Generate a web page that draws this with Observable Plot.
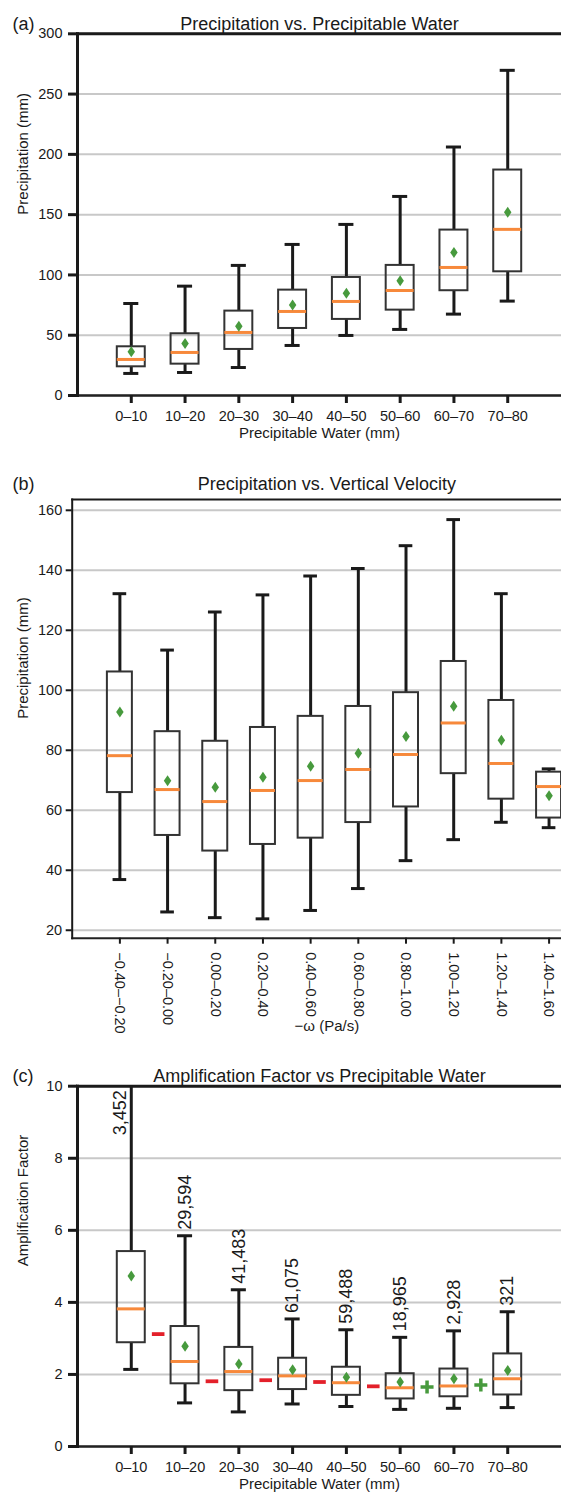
<!DOCTYPE html>
<html><head><meta charset="utf-8">
<script src="https://cdn.jsdelivr.net/npm/d3@7"></script>
<script src="https://cdn.jsdelivr.net/npm/@observablehq/plot@0.6"></script>
<style>
html,body{margin:0;padding:0;background:#fff;overflow:hidden;}
#wrap{width:561px;height:1496px;overflow:hidden;position:relative;background:#fff;}
#wrap svg{display:block;max-width:none !important;}
</style></head><body><div id="wrap"></div>
<script>
// ---------- Panel (a): Precipitation vs. Precipitable Water ----------
const pwLabels = ["0–10","10–20","20–30","30–40","40–50","50–60","60–70","70–80"];
const aLo   = [18.3, 19.1, 23.2, 41.5, 49.8, 54.8, 67.5, 78.3];
const aQ1   = [23.8, 26.0, 38.2, 55.6, 63.1, 70.8, 86.9, 102.6];
const aMed  = [29.9, 35.7, 52.3, 69.7, 78.0, 87.1, 106.2, 137.8];
const aQ3   = [40.4, 51.2, 70.0, 87.4, 97.9, 107.9, 137.2, 187.0];
const aHi   = [76.3, 90.7, 107.9, 125.3, 141.9, 165.1, 206.1, 269.7];
const aMean = [36.2, 43.2, 57.5, 75.0, 84.9, 95.2, 118.7, 151.9];
const aYTicks = [0, 50, 100, 150, 200, 250, 300];

// ---------- Panel (b): Precipitation vs. Vertical Velocity ----------
const omegaLabels = ["−0.40–−0.20","−0.20–0.00","0.00–0.20","0.20–0.40","0.40–0.60",
                     "0.60–0.80","0.80–1.00","1.00–1.20","1.20–1.40","1.40–1.60"];
const bLo   = [36.9, 26.1, 24.2, 23.8, 26.6, 33.9, 43.2, 50.2, 56.0, 54.2];
const bQ1   = [65.9, 51.6, 46.4, 48.6, 50.7, 55.9, 61.1, 72.2, 63.7, 57.4];
const bMed  = [78.2, 66.9, 62.9, 66.6, 69.9, 73.6, 78.6, 89.1, 75.6, 67.9];
const bQ3   = [106.1, 86.2, 83.0, 87.6, 91.3, 94.6, 99.2, 109.6, 96.6, 72.7];
const bHi   = [132.2, 113.4, 126.1, 131.8, 138.1, 140.6, 148.2, 156.9, 132.2, 73.8];
const bMean = [92.8, 69.8, 67.7, 71.0, 74.7, 79.0, 84.6, 94.7, 83.3, 64.8];
const bYTicks = [20, 40, 60, 80, 100, 120, 140, 160];

// ---------- Panel (c): Amplification Factor vs Precipitable Water ----------
const cLo   = [2.14, 1.21, 0.96, 1.18, 1.11, 1.03, 1.06, 1.08];
const cQ1   = [2.88, 1.74, 1.55, 1.58, 1.42, 1.32, 1.38, 1.43];
const cMed  = [3.82, 2.36, 2.08, 1.96, 1.77, 1.63, 1.68, 1.88];
const cQ3   = [5.41, 3.33, 2.75, 2.45, 2.20, 2.02, 2.15, 2.57];
const cHi   = [12.0, 5.85, 4.35, 3.54, 3.24, 3.03, 3.21, 3.74];
const cMean = [4.73, 2.78, 2.29, 2.13, 1.92, 1.79, 1.88, 2.11];
const cCounts = [3452, 29594, 41483, 61075, 59488, 18965, 2928, 321];
const cYTicks = [0, 2, 4, 6, 8, 10];
// significance markers between neighbouring bins
const sigLevel = [3.12, 1.81, 1.84, 1.79, 1.67, 1.65, 1.71];
const sigSign  = ["−", "−", "−", "−", "−", "+", "+"];

// ---------- helpers ----------
const FONT = "'Liberation Sans', Arial, Helvetica, sans-serif";
const INK = "#1a1a1a";
const GRID = "#c8c8c8";
const ORANGE = "#f7893b";
const GREEN = "#479a3d";
const RED = "#e3202a";
const TICK_FS = 14.5, LABEL_FS = 15, TITLE_FS = 18;

const thinDiamond = {draw(ctx, size) {
  const r = Math.sqrt(size / Math.PI);
  ctx.moveTo(0, -r); ctx.lineTo(r * 0.68, 0); ctx.lineTo(0, r); ctx.lineTo(-r * 0.68, 0); ctx.closePath();
}};
const minusSym = {draw(ctx, size) {
  const r = Math.sqrt(size / Math.PI);
  ctx.rect(-r, -r * 0.3, 2 * r, r * 0.6);
}};
const plusSym = {draw(ctx, size) {
  const r = Math.sqrt(size / Math.PI);
  const t = r * 0.27;
  ctx.moveTo(-r, -t); ctx.lineTo(-t, -t); ctx.lineTo(-t, -r); ctx.lineTo(t, -r); ctx.lineTo(t, -t);
  ctx.lineTo(r, -t); ctx.lineTo(r, t); ctx.lineTo(t, t); ctx.lineTo(t, r); ctx.lineTo(-t, r);
  ctx.lineTo(-t, t); ctx.lineTo(-r, t); ctx.closePath();
}};

function rowsOf(labels, lo, q1, med, q3, hi, mean) {
  return labels.map((label, i) => ({pos: i + 1, label, lo: lo[i], q1: q1[i], med: med[i], q3: q3[i], hi: hi[i], mean: mean[i]}));
}

function boxMarks(rows, {hw, cw, clip = false, lw = 3}) {
  return [
    Plot.ruleX(rows, {x: "pos", y1: "q3", y2: "hi", stroke: INK, strokeWidth: lw, clip}),
    Plot.ruleX(rows, {x: "pos", y1: "lo", y2: "q1", stroke: INK, strokeWidth: lw, clip}),
    Plot.ruleY(rows, {y: "hi", x1: d => d.pos - cw, x2: d => d.pos + cw, stroke: INK, strokeWidth: lw, clip}),
    Plot.ruleY(rows, {y: "lo", x1: d => d.pos - cw, x2: d => d.pos + cw, stroke: INK, strokeWidth: lw, clip}),
    Plot.rect(rows, {x1: d => d.pos - hw, x2: d => d.pos + hw, y1: "q1", y2: "q3", fill: "none", stroke: "#333", strokeWidth: 2}),
    Plot.ruleY(rows, {y: "med", x1: d => d.pos - hw, x2: d => d.pos + hw, stroke: ORANGE, strokeWidth: 3}),
    Plot.dot(rows, {x: "pos", y: "mean", symbol: thinDiamond, r: 5.5, fill: GREEN, stroke: "none"})
  ];
}

const style = {fontFamily: FONT, fontSize: "14.5px", color: INK, background: "white", overflow: "visible", maxWidth: "none"};
const wrap = document.getElementById("wrap");

// ---------- Panel (a) ----------
const rowsA = rowsOf(pwLabels, aLo, aQ1, aMed, aQ3, aHi, aMean);
wrap.append(Plot.plot({
  width: 561, height: 455,
  marginLeft: 77, marginRight: 0, marginTop: 33.3, marginBottom: 60,
  style,
  x: {type: "linear", domain: [0, 9], axis: null},
  y: {domain: [0, 300], axis: null},
  marks: [
    Plot.gridY(aYTicks, {stroke: GRID, strokeOpacity: 1, strokeWidth: 2}),
    Plot.frame({anchor: "right", stroke: "#999", strokeWidth: 1}),
    Plot.frame({anchor: "bottom", stroke: "#222", strokeWidth: 2.5}),
    Plot.frame({anchor: "top", stroke: INK, strokeWidth: 3}),
    Plot.frame({anchor: "left", stroke: INK, strokeWidth: 3}),
    Plot.axisY(aYTicks, {tickSize: 9, tickPadding: 6, strokeWidth: 3, color: INK, label: null, fontSize: TICK_FS}),
    Plot.axisX(rowsA.map(d => d.pos), {tickSize: 8, tickPadding: 7.5, strokeWidth: 3, color: INK, label: null, fontSize: TICK_FS,
      tickFormat: p => pwLabels[p - 1]}),
    ...boxMarks(rowsA, {hw: 0.26, cw: 0.14}),
    Plot.text(["Precipitation vs. Precipitable Water"], {frameAnchor: "top", dy: -17, fontSize: TITLE_FS, fill: INK}),
    Plot.text(["(a)"], {frameAnchor: "top-left", dx: -65, dy: -17, textAnchor: "start", fontSize: TITLE_FS, fill: INK}),
    Plot.text(["Precipitation (mm)"], {frameAnchor: "left", dx: -54, rotate: -90, fontSize: LABEL_FS, fill: INK}),
    Plot.text(["Precipitable Water (mm)"], {frameAnchor: "bottom", dy: 42, fontSize: LABEL_FS, fill: INK})
  ]
}));

// ---------- Panel (b) ----------
const rowsB = rowsOf(omegaLabels, bLo, bQ1, bMed, bQ3, bHi, bMean);
wrap.append(Plot.plot({
  width: 581, height: 590,
  marginLeft: 71.7, marginRight: 0, marginTop: 44, marginBottom: 107.3,
  style,
  x: {type: "linear", domain: [0, 10.68], axis: null},
  y: {domain: [17.35, 163.6], axis: null},
  marks: [
    Plot.gridY(bYTicks, {stroke: GRID, strokeOpacity: 1, strokeWidth: 2}),
    Plot.frame({anchor: "bottom", stroke: "#222", strokeWidth: 2}),
    Plot.frame({anchor: "top", stroke: INK, strokeWidth: 2}),
    Plot.frame({anchor: "left", stroke: INK, strokeWidth: 2}),
    Plot.axisY(bYTicks, {tickSize: 6, tickPadding: 4, strokeWidth: 2, color: INK, label: null, fontSize: TICK_FS}),
    Plot.axisX(rowsB.map(d => d.pos), {tickSize: 6, tickPadding: 8, strokeWidth: 2, color: INK, label: null, fontSize: TICK_FS,
      tickRotate: 90, textAnchor: "start", tickFormat: p => omegaLabels[p - 1]}),
    ...boxMarks(rowsB, {hw: 0.262, cw: 0.143}),
    Plot.text(["Precipitation vs. Vertical Velocity"], {frameAnchor: "top", dy: -22, fontSize: TITLE_FS, fill: INK}),
    Plot.text(["(b)"], {frameAnchor: "top-left", dx: -59.7, dy: -22, textAnchor: "start", fontSize: TITLE_FS, fill: INK}),
    Plot.text(["Precipitation (mm)"], {frameAnchor: "left", dx: -49.5, rotate: -90, fontSize: LABEL_FS, fill: INK}),
    Plot.text(["−ω (Pa/s)"], {frameAnchor: "bottom", dy: 93, fontSize: LABEL_FS, fill: INK})
  ]
}));

// ---------- Panel (c) ----------
const rowsC = rowsOf(pwLabels, cLo, cQ1, cMed, cQ3, cHi, cMean).map((d, i) => ({...d, n: cCounts[i]}));
const sigRows = sigLevel.map((v, i) => ({pos: i + 1.5, v, sign: sigSign[i]}));
const fmt = d3.format(",");
const yMaxC = cYTicks[cYTicks.length - 1];
wrap.append(Plot.plot({
  width: 561, height: 451,
  marginLeft: 77, marginRight: 0, marginTop: 40.7, marginBottom: 50,
  style,
  x: {type: "linear", domain: [0, 9], axis: null},
  y: {domain: [0, 10], axis: null},
  marks: [
    Plot.gridY(cYTicks, {stroke: GRID, strokeOpacity: 1, strokeWidth: 2}),
    Plot.frame({anchor: "right", stroke: "#999", strokeWidth: 1}),
    Plot.frame({anchor: "bottom", stroke: "#222", strokeWidth: 2.5}),
    Plot.frame({anchor: "top", stroke: INK, strokeWidth: 3}),
    Plot.frame({anchor: "left", stroke: INK, strokeWidth: 3}),
    Plot.axisY(cYTicks, {tickSize: 9, tickPadding: 6, strokeWidth: 3, color: INK, label: null, fontSize: TICK_FS}),
    Plot.axisX(rowsC.map(d => d.pos), {tickSize: 8, tickPadding: 7.5, strokeWidth: 3, color: INK, label: null, fontSize: TICK_FS,
      tickFormat: p => pwLabels[p - 1]}),
    ...boxMarks(rowsC, {hw: 0.26, cw: 0.14, clip: true}),
    Plot.dot(sigRows.filter(d => d.sign === "−"), {x: "pos", y: "v", symbol: minusSym, r: 6.3, fill: RED, stroke: "none"}),
    Plot.dot(sigRows.filter(d => d.sign === "+"), {x: "pos", y: "v", symbol: plusSym, r: 6.5, fill: GREEN, stroke: "none"}),
    Plot.text(rowsC.filter(d => d.hi <= yMaxC), {x: "pos", y: "hi", text: d => fmt(d.n), rotate: -90,
      textAnchor: "start", lineAnchor: "middle", dy: -6, fontSize: TITLE_FS, fill: INK}),
    Plot.text(rowsC.filter(d => d.hi > yMaxC), {x: "pos", frameAnchor: "top", text: d => fmt(d.n), rotate: -90,
      textAnchor: "end", lineAnchor: "bottom", dx: -5.5, dy: 4, fontSize: TITLE_FS, fill: INK}),
    Plot.text(["Amplification Factor vs Precipitable Water"], {frameAnchor: "top", dy: -17, fontSize: TITLE_FS, fill: INK}),
    Plot.text(["(c)"], {frameAnchor: "top-left", dx: -65, dy: -17, textAnchor: "start", fontSize: TITLE_FS, fill: INK}),
    Plot.text(["Amplification Factor"], {frameAnchor: "left", dx: -54.8, rotate: -90, fontSize: LABEL_FS, fill: INK}),
    Plot.text(["Precipitable Water (mm)"], {frameAnchor: "bottom", dy: 42, fontSize: LABEL_FS, fill: INK})
  ]
}));
</script></body></html>
